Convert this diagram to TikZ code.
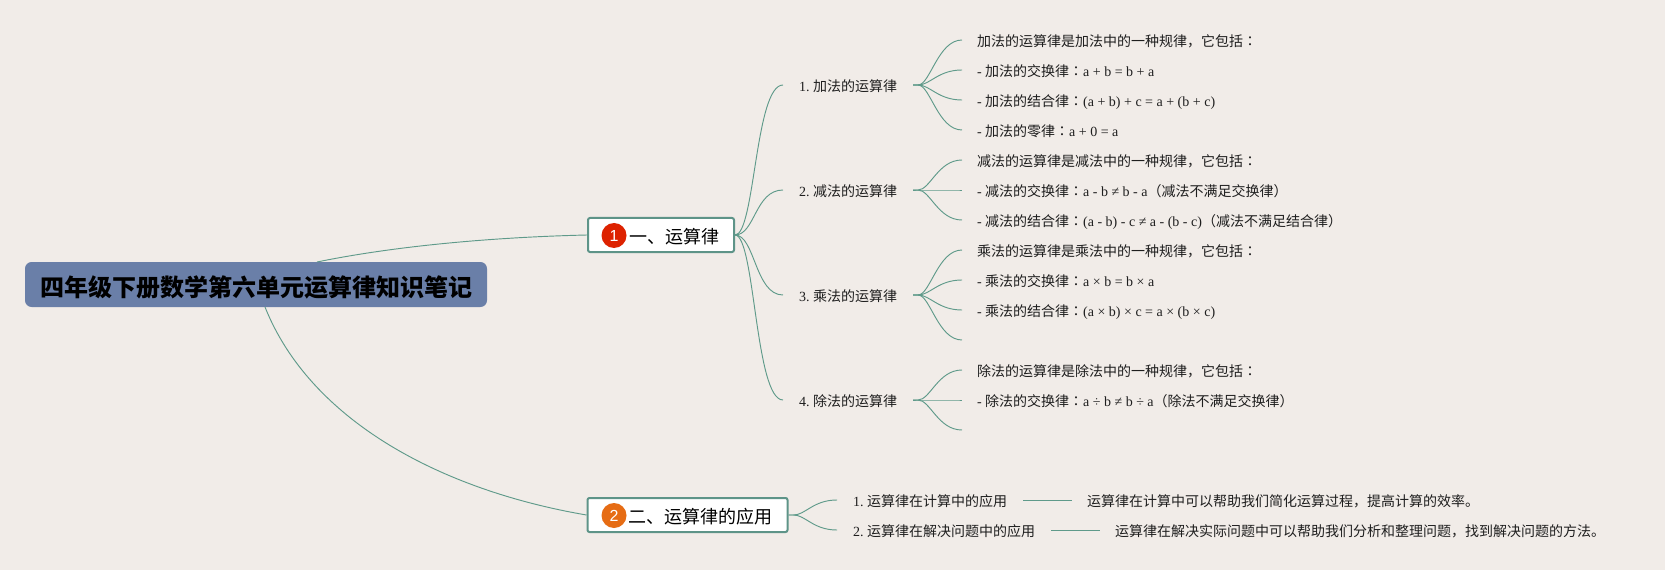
\documentclass[tikz,border=0pt]{standalone}
\usepackage{fontspec}
\usetikzlibrary{calc}
\setmainfont{Liberation Serif}
\newfontfamily\cjk{Noto Sans CJK SC}
\newfontfamily\cjktc{Noto Sans CJK TC}
\newfontfamily\digitfont{Liberation Sans}
\newcommand\zh[1]{{\cjk #1}}
\newcommand\cl{{\cjktc ：}}
\definecolor{bgc}{HTML}{F1ECE8}
\definecolor{linec}{HTML}{5F9A8A}
\definecolor{boxc}{HTML}{5E9488}
\definecolor{rootc}{HTML}{6A7FA8}
\definecolor{txtc}{HTML}{1E1E1E}
\definecolor{redb}{HTML}{DD2200}
\definecolor{orab}{HTML}{E66C14}
\tikzset{
  conn/.style={draw=linec,line width=0.7pt},
  rootbox/.style={fill=rootc,draw=none,rounded corners=5pt,minimum width=346.5pt,minimum height=33.75pt,inner sep=0pt,outer sep=0pt,text=black,font=\fontsize{18pt}{20pt}\selectfont\bfseries\cjk,text height=20pt,text depth=2pt},
  mainbox/.style={fill=white,draw=boxc,line width=1.5pt,rounded corners=1.5pt,minimum height=25.5pt,inner sep=0pt,outer sep=0.75pt,text=black,font=\fontsize{13.5pt}{15pt}\selectfont\cjk,text height=14.2pt,text depth=1pt},
  badge/.style={circle,minimum size=18.75pt,inner sep=0pt,text=white,font=\fontsize{12pt}{14pt}\selectfont\digitfont},
  sublabel/.style={anchor=west,inner xsep=12pt,inner ysep=0pt,outer sep=0pt,text=txtc,font=\fontsize{10.5pt}{12pt}\selectfont,text height=11.6pt,text depth=1.5pt},
  leaf/.style={anchor=west,inner xsep=11.25pt,inner ysep=0pt,outer sep=0pt,text=txtc,font=\fontsize{10.5pt}{12pt}\selectfont,text height=11.6pt,text depth=1.5pt}
}
\newcommand\fan[2]{\draw[conn] (#1) .. controls ($(#1)+(20,0)$) and ($(#2)+(-28,0)$) .. (#2);}
\newcommand\kid[2]{\draw[conn] (#1) -- ($(#1)+(5,0)$) .. controls ($(#1)+(17,0)$) and ($(#2)+(-24,0)$) .. (#2);}
\begin{document}
\begin{tikzpicture}[x=0.75pt,y=-0.75pt]
\useasboundingbox (0,0) rectangle (1665,570);
\fill[bgc] (0,0) rectangle (1665,570);
% main nodes
\node[rootbox] (root) at (256,284.5) {四年级下册数学第六单元运算律知识笔记};
\node[mainbox,minimum width=109.5pt] (n1) at (661,235) {\makebox[109.5pt][l]{\hspace{30.75pt}一、运算律}};
\node[mainbox,minimum width=150pt] (n2) at (687.5,515) {\makebox[150pt][l]{\hspace{30.75pt}二、运算律的应用}};
\node[badge,fill=redb] (b1) at (614,235.5) {1};
\node[badge,fill=orab] (b2) at (614,515.5) {2};
% second level
\node[sublabel] (s1) at (783,85) {1.\kern2.7pt\zh{加法的运算律}};
\node[sublabel] (s2) at (783,190) {2.\kern2.7pt\zh{减法的运算律}};
\node[sublabel] (s3) at (783,295) {3.\kern2.7pt\zh{乘法的运算律}};
\node[sublabel] (s4) at (783,400) {4.\kern2.7pt\zh{除法的运算律}};
\node[sublabel] (s5) at (837,500) {1.\kern2.7pt\zh{运算律在计算中的应用}};
\node[sublabel] (s6) at (837,530) {2.\kern2.7pt\zh{运算律在解决问题中的应用}};
% leaves
\node[leaf] (a1) at (962,40) {\zh{加法的运算律是加法中的一种规律，它包括}\cl};
\node[leaf] (a2) at (962,70) {- \zh{加法的交换律}\cl a + b = b + a};
\node[leaf] (a3) at (962,100) {- \zh{加法的结合律}\cl (a + b) + c = a + (b + c)};
\node[leaf] (a4) at (962,130) {- \zh{加法的零律}\cl a + 0 = a};
\node[leaf] (b5) at (962,160) {\zh{减法的运算律是减法中的一种规律，它包括}\cl};
\node[leaf] (b6) at (962,190) {- \zh{减法的交换律}\cl a - b ≠ b - a\zh{（减法不满足交换律）}};
\node[leaf] (b7) at (962,220) {- \zh{减法的结合律}\cl (a - b) - c ≠ a - (b - c)\zh{（减法不满足结合律）}};
\node[leaf] (c1) at (962,250) {\zh{乘法的运算律是乘法中的一种规律，它包括}\cl};
\node[leaf] (c2) at (962,280) {- \zh{乘法的交换律}\cl a × b = b × a};
\node[leaf] (c3) at (962,310) {- \zh{乘法的结合律}\cl (a × b) × c = a × (b × c)};
\coordinate (c4) at (962,340);
\node[leaf] (d1) at (962,370) {\zh{除法的运算律是除法中的一种规律，它包括}\cl};
\node[leaf] (d2) at (962,400) {- \zh{除法的交换律}\cl a ÷ b ≠ b ÷ a\zh{（除法不满足交换律）}};
\coordinate (d3) at (962,430);
\node[leaf] (e1) at (1072,500) {\zh{运算律在计算中可以帮助我们简化运算过程，提高计算的效率。}};
\node[leaf] (e2) at (1100,530) {\zh{运算律在解决实际问题中可以帮助我们分析和整理问题，找到解决问题的方法。}};
% connectors from root
\draw[conn] ($(root.north)+(61,0)$) .. controls (400,245) and (500,237) .. (n1.west);
\draw[conn] ($(root.south)+(9,0)$) .. controls (310,420) and (440,490) .. (n2.west);
% connectors
\fan{n1.east}{s1.west}
\fan{n1.east}{s2.west}
\fan{n1.east}{s3.west}
\fan{n1.east}{s4.west}
\kid{s1.east}{a1.west}
\kid{s1.east}{a2.west}
\kid{s1.east}{a3.west}
\kid{s1.east}{a4.west}
\kid{s2.east}{b5.west}
\kid{s2.east}{b6.west}
\kid{s2.east}{b7.west}
\kid{s3.east}{c1.west}
\kid{s3.east}{c2.west}
\kid{s3.east}{c3.west}
\kid{s3.east}{c4}
\kid{s4.east}{d1.west}
\kid{s4.east}{d2.west}
\kid{s4.east}{d3}
\kid{n2.east}{s5.west}
\kid{n2.east}{s6.west}
\draw[conn] (s5.east) -- (e1.west);
\draw[conn] (s6.east) -- (e2.west);
\end{tikzpicture}
\end{document}
